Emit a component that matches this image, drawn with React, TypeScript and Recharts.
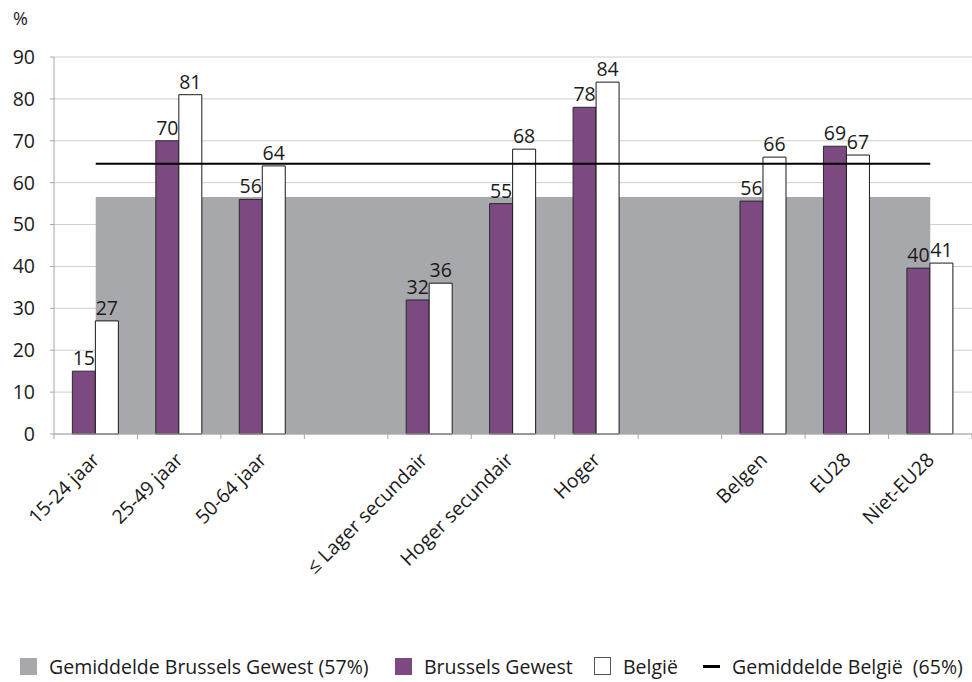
import React from 'react';
import {
  ComposedChart, Bar, Line, Area, XAxis, YAxis, CartesianGrid, LabelList, Legend,
} from 'recharts';

const categories = ['15-24 jaar', '25-49 jaar', '50-64 jaar', '', '≤ Lager secundair', 'Hoger secundair', 'Hoger', '', 'Belgen', 'EU28', 'Niet-EU28'];
const brusselsValues: (number | null)[] = [15, 70, 56, null, 32, 55, 78, null, 55.6, 68.7, 39.6];
const belgieValues: (number | null)[] = [27, 81, 64, null, 36, 68, 84, null, 66.1, 66.6, 40.8];
const avgBrussels = 56.6;
const avgBelgie = 64.5;
const yTicks = [0, 10, 20, 30, 40, 50, 60, 70, 80, 90];

const legendItems = [
  { label: 'Gemiddelde Brussels Gewest (57%)', kind: 'grey' },
  { label: 'Brussels Gewest', kind: 'purple' },
  { label: 'België', kind: 'white' },
  { label: 'Gemiddelde België  (65%)', kind: 'line' },
];

const data = categories.map((name, i) => ({
  name,
  brussels: brusselsValues[i],
  belgie: belgieValues[i],
  avgBru: avgBrussels,
  avgBel: avgBelgie,
}));

const W = 972;
const H = 682;
const MARGIN = { top: 57, right: 0, bottom: 1, left: 0 };
const YAXIS_W = 54;
const PLOT_W = W - MARGIN.left - MARGIN.right - YAXIS_W;
const BAND = PLOT_W / categories.length;
const FONT = '"Open Sans", sans-serif';
const FS = 19.5;
const PURPLE = '#7c4a80';
const GREY = '#a7a8ab';
const AXIS = '#a6a6a6';
const TEXT = '#1a1a1a';
const LEGEND_LEFTS = [20, 395, 594, 703];

const XTick = (props: any) => {
  const { x, y, payload, index } = props;
  const n = categories.length;
  const len = String(payload.value).length;
  const dx = len > 12 ? -(len - 12) * 1.2 : 0;
  return (
    <g>
      <line x1={x - BAND / 2} x2={x - BAND / 2} y1={y} y2={y + 5} stroke={AXIS} />
      {index === n - 1 && <line x1={x + BAND / 2} x2={x + BAND / 2} y1={y} y2={y + 5} stroke={AXIS} />}
      <text
        x={0}
        y={0}
        transform={`translate(${x + 5 + dx},${y + 27}) rotate(-45)`}
        textAnchor="end"
        fontSize={FS}
        fontFamily={FONT}
        fill={TEXT}
      >
        {payload.value}
      </text>
    </g>
  );
};

const fmt = (v: any) => (v == null ? '' : String(Math.round(Number(v))));

const Swatch = ({ kind }: { kind: string }) => {
  if (kind === 'line') return <div style={{ width: 17, height: 3, background: '#000' }} />;
  if (kind === 'white') return <div style={{ width: 16, height: 16, background: '#fff', border: '1px solid #555' }} />;
  return <div style={{ width: 17, height: 17, background: kind === 'grey' ? GREY : PURPLE }} />;
};

const LegendContent = () => (
  <div style={{ position: 'relative', width: W, height: 30, fontFamily: FONT, fontSize: FS, color: TEXT, whiteSpace: 'pre' }}>
    {legendItems.map((it, i) => (
      <div key={it.label} style={{ position: 'absolute', left: LEGEND_LEFTS[i], top: 0, height: 30, display: 'flex', alignItems: 'center' }}>
        <div style={{ width: 17, display: 'flex', justifyContent: 'center' }}><Swatch kind={it.kind} /></div>
        <span style={{ marginLeft: 12 }}>{it.label}</span>
      </div>
    ))}
  </div>
);

export default function App() {
  return (
    <div style={{ position: 'absolute', left: 0, top: 0, width: W, height: H }}>
      <ComposedChart
        width={W}
        height={H}
        data={data}
        margin={MARGIN}
        barCategoryGap="22%"
        barGap={0}
      >
        <CartesianGrid horizontal vertical={false} stroke="#cfcfcf" />
        <XAxis
          dataKey="name"
          interval={0}
          tickLine={false}
          tickSize={0}
          tickMargin={0}
          height={217}
          stroke={AXIS}
          tick={<XTick />}
        />
        <YAxis
          width={YAXIS_W}
          domain={[0, 90]}
          ticks={yTicks}
          interval={0}
          tickSize={4}
          tickMargin={15}
          stroke={AXIS}
          tick={{ fontSize: FS, fontFamily: FONT, fill: TEXT }}
          label={{
            content: () => (
              <text x={13} y={25} fontSize={18} fontFamily={FONT} fill={TEXT}>%</text>
            ),
          }}
        />
        <Area
          dataKey="avgBru"
          type="linear"
          fill={GREY}
          fillOpacity={1}
          stroke="none"
          isAnimationActive={false}
          activeDot={false}
          dot={false}
        />
        <Bar dataKey="brussels" fill={PURPLE} stroke="#2a2a2a" strokeWidth={1} isAnimationActive={false}>
          <LabelList dataKey="brussels" position="top" formatter={fmt} fontSize={FS} fontFamily={FONT} fill={TEXT} offset={6} />
        </Bar>
        <Bar dataKey="belgie" fill="#ffffff" stroke="#1a1a1a" strokeWidth={1} isAnimationActive={false}>
          <LabelList dataKey="belgie" position="top" formatter={fmt} fontSize={FS} fontFamily={FONT} fill={TEXT} offset={6} />
        </Bar>
        <Line
          dataKey="avgBel"
          type="linear"
          stroke="#000"
          strokeWidth={2}
          dot={false}
          activeDot={false}
          isAnimationActive={false}
        />
        <Legend verticalAlign="bottom" height={30} wrapperStyle={{ left: 0, width: W }} content={<LegendContent />} />
      </ComposedChart>
    </div>
  );
}
